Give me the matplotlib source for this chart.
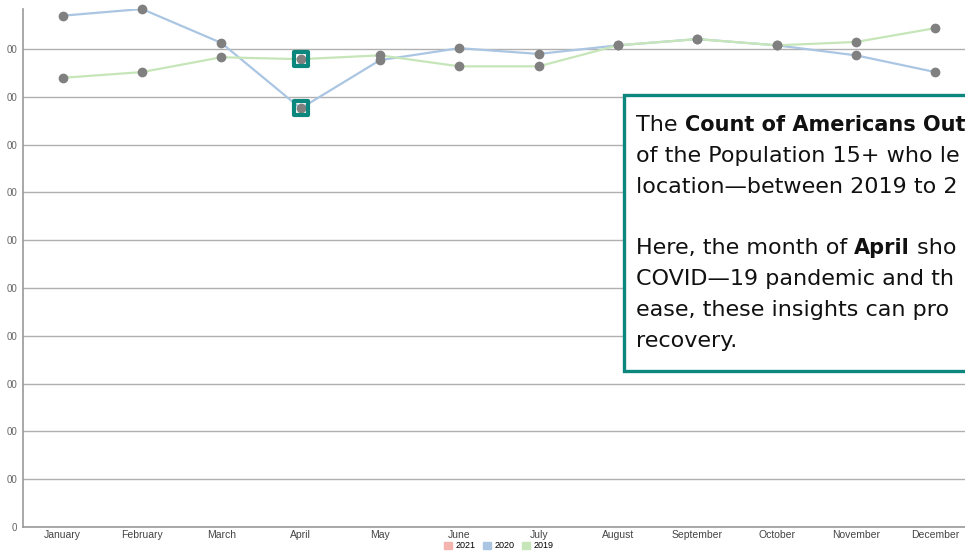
import matplotlib
matplotlib.use('Agg')
import matplotlib.pyplot as plt
from matplotlib.patches import Rectangle, Patch
from matplotlib.markers import MarkerStyle

# data (one unit = one gridline step)
months = ['January', 'February', 'March', 'April', 'May', 'June', 'July',
          'August', 'September', 'October', 'November', 'December']
values_2020 = [10.70, 10.84, 10.13, 8.76, 9.77, 10.02, 9.90, 10.08, 10.21, 10.08, 9.87, 9.52]
values_2019 = [9.40, 9.52, 9.83, 9.79, 9.87, 9.64, 9.64, 10.08, 10.21, 10.08, 10.15, 10.44]
y_ticks = [0, 1, 2, 3, 4, 5, 6, 7, 8, 9, 10]
y_tick_labels = ['0', '00', '00', '00', '00', '00', '00', '00', '00', '00', '00']
legend_years = ['2021', '2020', '2019']
highlight_month = 'April'

c2021 = '#f4b5ae'
c2020 = '#aac6e2'
c2019 = '#c6e6b9'
teal = '#0b877d'
point_col = '#808080'

plt.rcParams['font.family'] = ['Liberation Sans', 'DejaVu Sans']

fig = plt.figure(figsize=(9.65, 5.52), dpi=100)
ax = fig.add_axes([23 / 965, 25 / 552, 952 / 965, 518 / 552])

x = list(range(len(months)))
ax.plot(x, values_2020, color=c2020, lw=1.6, zorder=3)
ax.plot(x, values_2019, color=c2019, lw=1.6, zorder=3)
ax.plot(x, values_2020, 'o', color=point_col, ms=6, zorder=4, clip_on=False)
ax.plot(x, values_2019, 'o', color=point_col, ms=6, zorder=4, clip_on=False)

# highlight boxes for April
i = months.index(highlight_month)
box = MarkerStyle('s', joinstyle='round')
ax.plot([i, i], [values_2019[i], values_2020[i]], ls='none', marker=box, ms=10.5,
        mfc='none', mec=teal, mew=3, zorder=5)

ax.set_xlim(-0.5, 11.5)
ax.set_ylim(0, 10.84)
ax.set_xticks(x)
ax.set_xticklabels(months, fontsize=7.5, color='#444444')
ax.set_yticks(y_ticks)
ax.set_yticklabels(y_tick_labels, fontsize=7, color='#666666')
ax.tick_params(axis='x', length=0, pad=2)
ax.tick_params(axis='y', length=0, pad=4)
ax.grid(axis='y', color='#b0b0b0', lw=1)
ax.set_axisbelow(True)
for s in ['top', 'right']:
    ax.spines[s].set_visible(False)
for s in ['left', 'bottom']:
    ax.spines[s].set_color('#999999')
    ax.spines[s].set_linewidth(1.2)

handles = [Patch(color=c) for c in (c2021, c2020, c2019)]
fig.legend(handles, legend_years, loc='center', bbox_to_anchor=(499 / 965, 6 / 552),
           ncol=3, frameon=False, fontsize=6.5, handlelength=0.9, handleheight=0.9,
           handletextpad=0.4, columnspacing=0.8, borderpad=0)

# annotation box, running off the right edge like the reference
W, H = 965, 552
fig.patches.append(Rectangle((624 / W, (H - 371) / H), 0.5, 276 / H,
                             transform=fig.transFigure, facecolor='white',
                             edgecolor=teal, lw=2.4, zorder=10))

# only the part of the note that is visible in the reference
lines = [
    [('The ', 'normal'), ('Count of Americans Out', 'bold')],
    [('of the Population 15+ who le', 'normal')],
    [('location\u2014between 2019 to 2', 'normal')],
    [],
    [('Here, the month of ', 'normal'), ('April', 'bold'), (' sho', 'normal')],
    [('COVID\u201419 pandemic and th', 'normal')],
    [('ease, these insights can pro', 'normal')],
    [('recovery.', 'normal')],
]
renderer = fig.canvas.get_renderer()
y_px = 131
for line in lines:
    x_px = 636
    for txt, weight in line:
        t = fig.text(x_px / W, (H - y_px) / H, txt, fontsize=16 if weight == 'normal' else 15,
                     family=['DejaVu Sans'], weight=weight, color='#111111', zorder=11,
                     va='baseline')
        x_px += t.get_window_extent(renderer).width
    y_px += 30.8

fig.savefig('out.png', dpi=100)
